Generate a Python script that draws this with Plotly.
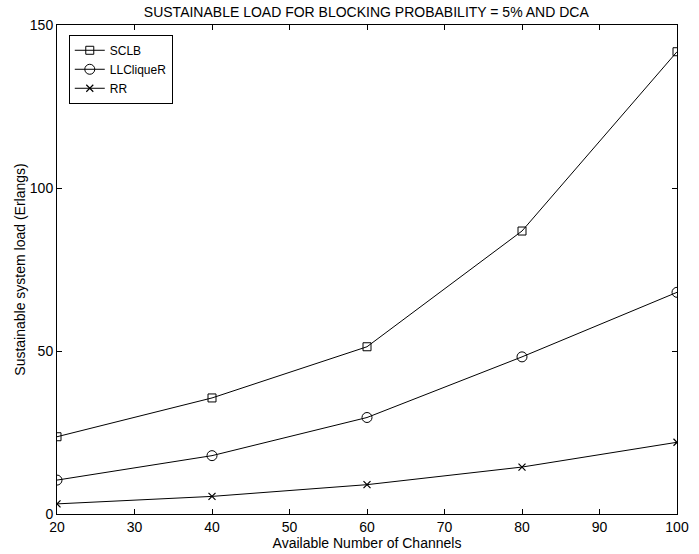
import plotly.graph_objects as go

channels = [20, 40, 60, 80, 100]
sclb = [23.7, 35.6, 51.3, 86.8, 141.8]
llcliquer = [10.4, 17.9, 29.6, 48.2, 68.0]
rr = [3.1, 5.4, 9.0, 14.4, 22.0]

x_ticks = [20, 30, 40, 50, 60, 70, 80, 90, 100]
y_ticks = [0, 50, 100, 150]

FAM = "Liberation Sans, Arial, sans-serif"
font = dict(family=FAM, size=14, color="black")

fig = go.Figure()
fig.add_trace(go.Scatter(x=channels, y=sclb, name="SCLB", mode="lines+markers",
                         line=dict(color="black", width=1),
                         marker=dict(symbol="square-open", size=8, color="black", line=dict(width=1))))
fig.add_trace(go.Scatter(x=channels, y=llcliquer, name="LLCliqueR", mode="lines+markers",
                         line=dict(color="black", width=1),
                         marker=dict(symbol="circle-open", size=10, color="black", line=dict(width=1))))
fig.add_trace(go.Scatter(x=channels, y=rr, name="RR", mode="lines+markers",
                         line=dict(color="black", width=1),
                         marker=dict(symbol="x-thin-open", size=7, color="black", line=dict(width=1.2))))

axis_common = dict(showgrid=False, zeroline=False, showline=True, linecolor="black", linewidth=1,
                   mirror="ticks", ticks="inside", ticklen=5, tickcolor="black", tickwidth=1,
                   tickfont=font, automargin=False)

fig.update_layout(
    width=699, height=554,
    margin=dict(l=57, r=22, t=25, b=40),
    paper_bgcolor="white", plot_bgcolor="white",
    font=font,
    title=dict(text="SUSTAINABLE LOAD FOR BLOCKING PROBABILITY = 5% AND DCA",
               x=0.524, xanchor="center", y=0.987, yanchor="top",
               font=dict(family=FAM, size=14, color="black")),
    xaxis=dict(range=[20, 100], tickvals=x_ticks,
               title=dict(text="Available Number of Channels", standoff=2,
                          font=dict(family=FAM, size=14, color="black")),
               **axis_common),
    yaxis=dict(range=[0, 150], tickvals=y_ticks,
               title=dict(text="Sustainable system load (Erlangs)", standoff=0,
                          font=dict(family=FAM, size=14, color="black")),
               **axis_common),
    legend=dict(x=0.019, y=0.98, xanchor="left", yanchor="top", bgcolor="white",
                bordercolor="black", borderwidth=1, font=dict(family=FAM, size=12, color="black"),
                tracegroupgap=0, itemwidth=30),
    showlegend=True,
)

fig.write_html("out.html", config={"displayModeBar": False},
               post_script="document.body.style.margin='0';document.body.style.overflow='hidden';")
